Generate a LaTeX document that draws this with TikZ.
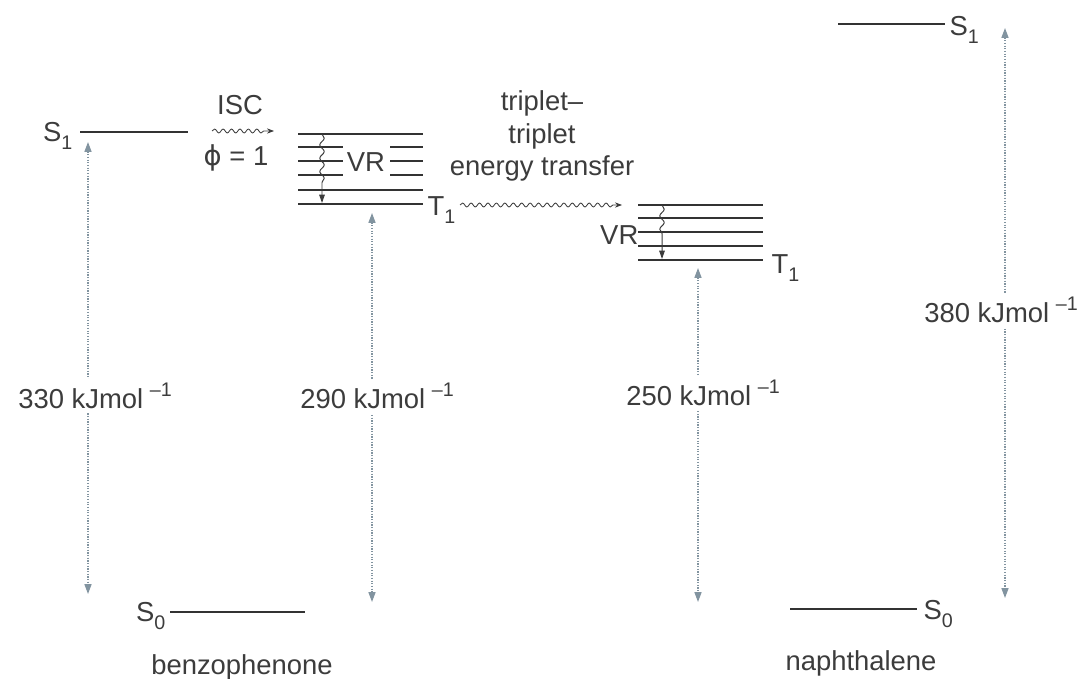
\documentclass[tikz,border=0pt]{standalone}
\usepackage{fontspec}
\setmainfont{Liberation Sans}
\newfontfamily\greekfont{DejaVu Sans}
\usepackage{xcolor}
\usetikzlibrary{arrows.meta,decorations.pathmorphing}
\definecolor{arrowgray}{RGB}{130,148,160}
\definecolor{inkgray}{RGB}{60,60,60}
\newcommand{\lvsub}[1]{\raisebox{-0.5ex}{\fontsize{14}{14}\selectfont #1}}
\newcommand{\permol}{kJmol\raisebox{0.85ex}{\fontsize{14}{14}\selectfont\,\,–1}}

\begin{document}
\begin{tikzpicture}[x=0.025cm, y=-0.025cm, >=Stealth, line join=round,
  level/.style={line width=1.5pt, draw=black!80},
  enarrow/.style={densely dotted, line width=0.9pt, draw=arrowgray,
    {Triangle[length=7pt,width=5pt,fill=arrowgray]}-{Triangle[length=7pt,width=5pt,fill=arrowgray]}},
  wavy/.style={decorate, line width=0.6pt, draw=inkgray, -{Stealth[length=5pt]},
    decoration={snake, amplitude=1.4pt, segment length=6pt, post length=5pt}},
  vrwave/.style={decorate, line width=0.7pt, draw=inkgray, -{Triangle[length=6pt,width=4pt]},
    decoration={snake, amplitude=1.6pt, segment length=9.5pt, post length=14pt}},
  txt/.style={text=inkgray, inner sep=1pt, font=\fontsize{19.5}{23}\selectfont},
  enlbl/.style={txt, fill=white, inner sep=3pt}]
  \useasboundingbox (0,0) rectangle (1084,678);

  % benzophenone
  \coordinate (bpS1l) at (80,132);
  \coordinate (bpS1r) at (188,132);
  \coordinate (bpS0l) at (170,612);
  \coordinate (bpS0r) at (305,612);
  \coordinate (bpV0l) at (298,134);
  \coordinate (bpV0r) at (423,134);
  \coordinate (bpV1l) at (298,147);
  \coordinate (bpV1m) at (343,147);
  \coordinate (bpV1n) at (390,147);
  \coordinate (bpV1r) at (423,147);
  \coordinate (bpV2l) at (298,161);
  \coordinate (bpV2m) at (343,161);
  \coordinate (bpV2n) at (390,161);
  \coordinate (bpV2r) at (423,161);
  \coordinate (bpV3l) at (298,175);
  \coordinate (bpV3m) at (343,175);
  \coordinate (bpV3n) at (390,175);
  \coordinate (bpV3r) at (423,175);
  \coordinate (bpV4l) at (298,190);
  \coordinate (bpV4r) at (423,190);
  \coordinate (bpT1l) at (298,204);
  \coordinate (bpT1r) at (423,204);
  \coordinate (bpWtop) at (322,134);
  \coordinate (bpWbot) at (322,203);
  \coordinate (iscA) at (212,131);
  \coordinate (iscB) at (274,131);
  \coordinate (e330t) at (88,142);
  \coordinate (e330b) at (88,594);
  \coordinate (e290t) at (372,213);
  \coordinate (e290b) at (372,602);

  % naphthalene
  \coordinate (npS1l) at (838,24);
  \coordinate (npS1r) at (945,24);
  \coordinate (npS0l) at (790,609);
  \coordinate (npS0r) at (917,609);
  \coordinate (npV0l) at (638,205);
  \coordinate (npV0r) at (763,205);
  \coordinate (npV1l) at (638,218);
  \coordinate (npV1r) at (763,218);
  \coordinate (npV2l) at (638,232);
  \coordinate (npV2r) at (763,232);
  \coordinate (npV3l) at (638,246);
  \coordinate (npV3r) at (763,246);
  \coordinate (npT1l) at (638,260);
  \coordinate (npT1r) at (763,260);
  \coordinate (npWtop) at (662,205);
  \coordinate (npWbot) at (662,259);
  \coordinate (ttA) at (460,205);
  \coordinate (ttB) at (622,205);
  \coordinate (e250t) at (698,268);
  \coordinate (e250b) at (698,602);
  \coordinate (e380t) at (1005,28);
  \coordinate (e380b) at (1005,598);

  \draw[level] (bpS1l) -- (bpS1r);
  \draw[level] (bpS0l) -- (bpS0r);
  \draw[level] (bpV0l) -- (bpV0r);
  \draw[level] (bpV1l) -- (bpV1m);
  \draw[level] (bpV1n) -- (bpV1r);
  \draw[level] (bpV2l) -- (bpV2m);
  \draw[level] (bpV2n) -- (bpV2r);
  \draw[level] (bpV3l) -- (bpV3m);
  \draw[level] (bpV3n) -- (bpV3r);
  \draw[level] (bpV4l) -- (bpV4r);
  \draw[level] (bpT1l) -- (bpT1r);
  \draw[level] (npS1l) -- (npS1r);
  \draw[level] (npS0l) -- (npS0r);
  \draw[level] (npV0l) -- (npV0r);
  \draw[level] (npV1l) -- (npV1r);
  \draw[level] (npV2l) -- (npV2r);
  \draw[level] (npV3l) -- (npV3r);
  \draw[level] (npT1l) -- (npT1r);

  \draw[vrwave] (bpWtop) -- (bpWbot);
  \draw[vrwave] (npWtop) -- (npWbot);
  \draw[wavy] (iscA) -- (iscB);
  \draw[wavy] (ttA) -- (ttB);

  \draw[enarrow] (e330t) -- (e330b);
  \draw[enarrow] (e290t) -- (e290b);
  \draw[enarrow] (e250t) -- (e250b);
  \draw[enarrow] (e380t) -- (e380b);

  \node[txt,anchor=east] (bpS1) at (74,136) {S\lvsub{1}};
  \node[txt,anchor=east] (bpS0) at (167,616) {S\lvsub{0}};
  \node[txt,anchor=west] (bpT1) at (426,210) {T\lvsub{1}};
  \node[txt] (bpVR) at (366,162) {VR};
  \node[txt] (isc) at (240,105) {ISC};
  \node[txt] (phi) at (236,158) {{\greekfont ϕ} = 1};
  \node[enlbl] (e330) at (95,396) {330 \permol};
  \node[enlbl] (e290) at (377,396) {290 \permol};
  \node[txt] (bpname) at (242,667) {benzophenone};

  \node[txt,anchor=west] (npS1) at (948,30) {S\lvsub{1}};
  \node[txt,anchor=west] (npS0) at (922,614) {S\lvsub{0}};
  \node[txt,anchor=west] (npT1) at (770,268) {T\lvsub{1}};
  \node[txt,anchor=east] (npVR) at (640,235) {VR};
  \node[txt,align=center] (tt) at (542,136) {triplet–\\triplet\\energy transfer};
  \node[enlbl] (e250) at (703,393) {250 \permol};
  \node[enlbl] (e380) at (1001,310) {380 \permol};
  \node[txt] (npname) at (861,663) {naphthalene};
\end{tikzpicture}
\end{document}
